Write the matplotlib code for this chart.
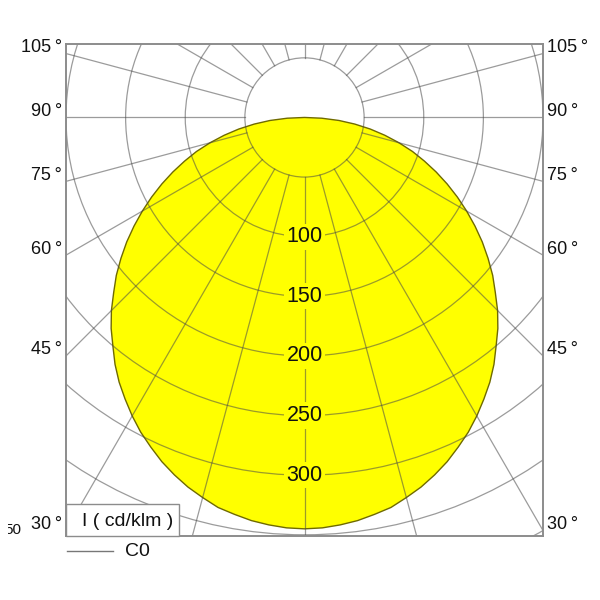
import numpy as np
import matplotlib
matplotlib.use("Agg")
import matplotlib.pyplot as plt
from matplotlib.patches import Circle, Rectangle

plt.rcParams['font.family'] = ['Liberation Sans', 'DejaVu Sans']

# Luminous intensity (cd/klm) for C0 plane, gamma angles 0..90 deg (step 2.5)
gamma = [0, 2.5, 5, 7.5, 10, 12.5, 15, 17.5, 20, 22.5, 25, 27.5, 30, 32.5, 35, 37.5, 40,
         42.5, 45, 47.5, 50, 52.5, 55, 57.5, 60, 62.5, 65, 67.5, 70, 72.5, 75, 77.5, 80,
         82.5, 85, 87.5, 90]
intensity = [345, 344.5, 343, 341, 338, 335, 330, 325, 319, 312.5, 305, 297.5, 289, 280,
             271, 261, 250, 240, 229, 217, 206, 194, 182, 169.5, 157, 144.5, 132, 119.5,
             107, 95, 82, 69, 56, 42.5, 29, 14.5, 0]

ring_values = [50, 100, 150, 200, 250, 300, 350, 400, 450]
ring_labels = [100, 150, 200, 250, 300]
side_angles = [30, 45, 60, 75, 90, 105]

fig = plt.figure(figsize=(6, 6), dpi=100)
W, H = 600, 600
ax = fig.add_axes([66 / W, (H - 536) / H, 477 / W, 492 / H])
ax.set_xlim(-200, 200)
ax.set_ylim(-351, 61.6)
ax.set_xticks([])
ax.set_yticks([])
for s in ax.spines.values():
    s.set_color('#8c8c8c')
    s.set_linewidth(1.4)

# distribution curve (symmetric C0 / C180)
g = np.radians(np.array(gamma, dtype=float))
I = np.array(intensity, dtype=float)
xr = I * np.sin(g)
yr = -I * np.cos(g)
xs = np.concatenate([xr, -xr[::-1]])
ys = np.concatenate([yr, yr[::-1]])
ax.fill(xs, ys, facecolor='#ffff00', edgecolor='#6f6a00', linewidth=1.0, zorder=1)

gc = '#4a4a4a'
ga = 0.55
for r in ring_values:
    ax.add_patch(Circle((0, 0), r, fill=False, edgecolor=gc, alpha=ga, linewidth=0.9, zorder=2))
for a in range(0, 360, 15):
    t = np.radians(a)
    ax.plot([50 * np.sin(t), 700 * np.sin(t)], [-50 * np.cos(t), -700 * np.cos(t)],
            color=gc, alpha=ga, linewidth=0.9, zorder=2)

for v in ring_labels:
    ax.text(0, -v, str(v), ha='center', va='center', fontsize=15.5, color='#111111', zorder=4,
            bbox=dict(boxstyle='square,pad=0.12', facecolor='#ffff00', edgecolor='none'))

for a in side_angles:
    t = np.radians(a)
    yh = -200 * np.cos(t) / np.sin(t)
    ax.text(-203.5, yh + 5, f"{a}\u2009°", ha='right', va='center', fontsize=13, color='#111111', clip_on=False)
    ax.text(203.5, yh + 5, f"{a}\u2009°", ha='left', va='center', fontsize=13, color='#111111', clip_on=False)

# unit box
fig.patches.append(Rectangle((66 / W, (H - 536) / H), (179 - 66) / W, (536 - 504) / H,
                             transform=fig.transFigure, facecolor='white', edgecolor='#8c8c8c',
                             linewidth=1.0, zorder=5))
fig.text(128 / W, (H - 522) / H, "I ( cd/klm )", ha='center', va='center', fontsize=14,
         color='#111111', zorder=6)

# legend line
fig.add_artist(plt.Line2D([67 / W, 113 / W], [(H - 551) / H, (H - 551) / H],
                          transform=fig.transFigure, color='#777777', linewidth=1.0))
fig.text(125 / W, (H - 551) / H, "C0", ha='left', va='center', fontsize=14, color='#111111')

# partially hidden label at far left
fig.text(21 / W, (H - 530) / H, "50", ha='right', va='center', fontsize=11, color='#111111', zorder=3)
fig.patches.append(Rectangle((0, (H - 545) / H), 8 / W, 30 / H, transform=fig.transFigure,
                             facecolor='white', edgecolor='none', zorder=4))

fig.savefig("out.png", dpi=100, facecolor='white')
